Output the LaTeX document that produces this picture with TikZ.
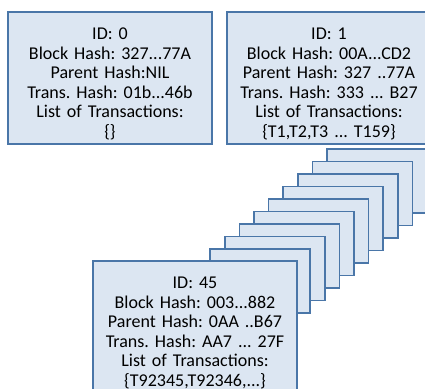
\documentclass[tikz,border=0pt]{standalone}
\usepackage{fontspec}
\setmainfont{Carlito}
\frenchspacing
\definecolor{blockfill}{HTML}{DCE6F2}
\definecolor{blockline}{HTML}{4A76A8}
\begin{document}
\begin{tikzpicture}[x=1pt, y=-1pt, line join=miter,
	every node/.style={outer sep=0pt, inner sep=0pt},
	block/.style={draw=blockline, fill=blockfill, line width=1.6pt, minimum width=204pt, minimum height=132pt, text width=200pt, text height=23pt, align=center, font=\fontsize{18}{19.5}\selectfont\frenchspacing},
	stackbox/.style={draw=blockline, fill=blockfill, line width=1.6pt, minimum width=100pt, minimum height=64pt}]
	\useasboundingbox (0, 0) rectangle (425, 388);
	
	% Genesis
	\node[block] (b0) at (110, 78) {ID: 0\\Block Hash: 327...77A\\Parent Hash:NIL\\Trans. Hash: 01b...46b\\List of Transactions:\\\{\}};
	% Block 1
	\node[block] (b1) at (329, 78) {ID: 1\\Block Hash: 00A...CD2\\Parent Hash: 327 ..77A\\Trans. Hash: 333 ... B27\\List of Transactions:\\\{T1,T2,T3 ... T159\}};
	% Stack
	\foreach \i in {0,...,8}
		\node[stackbox] (s\i) at ({377 - 14.6*\i}, {181 + 12.5*\i}) {};
	% Block 45
	\node[block] (b45) at (195, 327) {ID: 45\\Block Hash: 003...882\\Parent Hash: 0AA ..B67\\Trans. Hash: AA7 ... 27F\\List of Transactions:\\\{T92345,T92346,...\}};
\end{tikzpicture}
\end{document}
